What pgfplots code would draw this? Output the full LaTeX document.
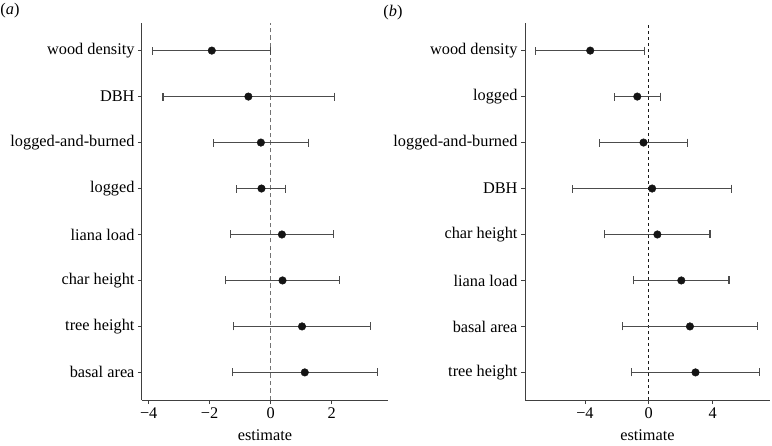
\documentclass[border=0pt]{standalone}
\usepackage{pgfplots}
\pgfplotsset{compat=1.18}
\usepackage{pgfplotstable}
\usepackage{fontspec}
\setmainfont{Liberation Serif}
\pgfplotstableread{
pos est lo hi
8 -1.93 -3.87 0.00
7 -0.73 -3.53 2.09
6 -0.32 -1.88 1.25
5 -0.30 -1.11 0.50
4 0.37 -1.31 2.07
3 0.39 -1.48 2.26
2 1.03 -1.23 3.29
1 1.12 -1.26 3.51
}\dataA
\pgfplotstableread{
pos est lo hi
8 -3.67 -7.08 -0.25
7 -0.72 -2.14 0.75
6 -0.33 -3.11 2.43
5 0.21 -4.77 5.17
4 0.54 -2.76 3.84
3 2.04 -0.93 5.03
2 2.58 -1.62 6.79
1 2.93 -1.08 6.94
}\dataB
\begin{document}
\begin{tikzpicture}[x=1pt,y=1pt]
\pgfplotsset{
 myaxis/.style={
  scale only axis, height=377pt, anchor=south west,
  axis x line*=bottom, axis y line*=left,
  axis line style={draw=black!75, line width=1pt, -},
  ymin=0.4, ymax=8.6, ytick={1,...,8},
  tick align=outside, major tick length=4pt,
  tick style={draw=black!75, line width=0.9pt},
  ticklabel style={font=\fontsize{16.3}{18}\selectfont, text=black},
  xlabel={estimate}, xlabel style={font=\fontsize{16.3}{18}\selectfont, text=black, yshift=-4pt},
  clip=false,
 },
 ebars/.style={only marks, mark=none,
  error bars/.cd, x dir=both, x explicit, error mark=|,
  error mark options={mark size=4pt, draw=black!70, line width=1.1pt},
  error bar style={draw=black!70, line width=1.1pt}},
 dots/.style={only marks, mark=*, mark size=3.8pt, draw=black!92, fill=black!92}
}
\begin{axis}[myaxis, at={(142pt,45pt)}, width=246pt,
  xmin=-4.22, xmax=3.85, xtick={-4,-2,0,2}, xticklabels={−4,−2,0,2},
  yticklabels={basal area,tree height,char height,liana load,logged,logged-and-burned,DBH,wood density}]
\addplot[black!55, dash pattern=on 4.5pt off 3pt, line width=1.1pt] coordinates {(0,0.4) (0,8.6)};
\addplot[ebars] table[x=est, y=pos, x error plus expr=\thisrow{hi}-\thisrow{est}, x error minus expr=\thisrow{est}-\thisrow{lo}] {\dataA};
\addplot[dots] table[x=est, y=pos] {\dataA};
\end{axis}
\begin{axis}[myaxis, at={(525pt,45pt)}, width=245pt,
  xmin=-7.76, xmax=7.6, xtick={-4,0,4}, xticklabels={−4,0,4},
  yticklabels={tree height,basal area,liana load,char height,DBH,logged-and-burned,logged,wood density}]
\addplot[black!90, dash pattern=on 3pt off 3pt, line width=0.9pt] coordinates {(0,0.4) (0,8.6)};
\addplot[ebars] table[x=est, y=pos, x error plus expr=\thisrow{hi}-\thisrow{est}, x error minus expr=\thisrow{est}-\thisrow{lo}] {\dataB};
\addplot[dots] table[x=est, y=pos] {\dataB};
\end{axis}
\node[font=\fontsize{16.3}{18}\selectfont, text=black] at (10,434) {(\textit{a})};
\node[font=\fontsize{16.3}{18}\selectfont, text=black] at (393,432) {(\textit{b})};
\pgfresetboundingbox
\path (0,0) rectangle (772,445);
\end{tikzpicture}
\end{document}
